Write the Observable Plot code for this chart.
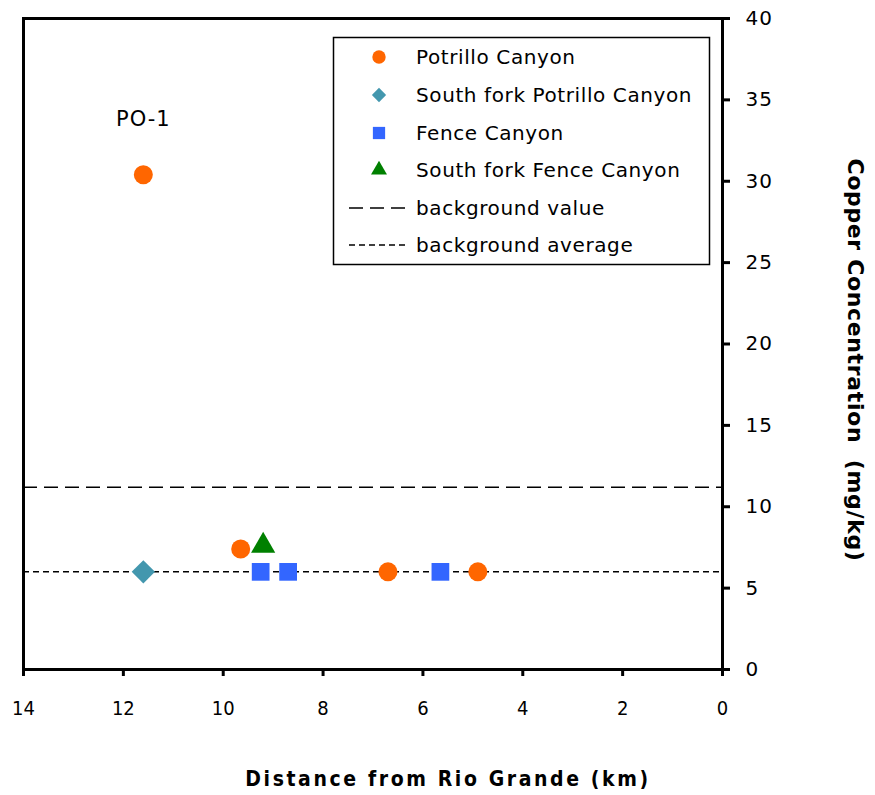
<!DOCTYPE html>
<html>
<head>
<meta charset="utf-8">
<script src="https://cdn.jsdelivr.net/npm/d3@7"></script>
<script src="https://cdn.jsdelivr.net/npm/@observablehq/plot@0.6"></script>
<style>
  html, body { margin: 0; padding: 0; background: #fff; }
  #wrap { position: relative; width: 875px; height: 795px; }
  #legend { position: absolute; left: 0; top: 0; pointer-events: none; }
  .ytick text { letter-spacing: 1px; }
  .po text { letter-spacing: 1px; }
  .xtitle text { letter-spacing: 2.6px; }
  .ytitle text { letter-spacing: 0.65px; }
</style>
</head>
<body>
<div id="wrap"></div>
<script>
// ---- data ----
const seriesNames = ["Potrillo Canyon", "South fork Potrillo Canyon", "Fence Canyon", "South fork Fence Canyon"];
const seriesColors = ["#FF6600", "#4397AE", "#3366FF", "#008000"];
const seriesSymbols = ["circle", "diamond2", "square", "triangle"];

const potrilloX = [11.6, 9.65, 6.7, 4.9];
const potrilloY = [30.4, 7.4, 6.0, 6.0];
const sfPotrilloX = [11.6];
const sfPotrilloY = [6.0];
const fenceX = [9.25, 8.7, 5.65];
const fenceY = [6.0, 6.0, 6.0];
const sfFenceX = [9.2];
const sfFenceY = [7.6];

const backgroundValue = 11.2;
const backgroundAverage = 6.0;

const xTicks = [14, 12, 10, 8, 6, 4, 2, 0];
const yTicks = [0, 5, 10, 15, 20, 25, 30, 35, 40];

const labels = [{x: 11.6, y: 30.4, text: "PO-1"}];
const xTitle = "Distance from Rio Grande (km)";
const yTitle = "Copper Concentration  (mg/kg)";
const lineLegend = ["background value", "background average"];

// ---- build table ----
const seriesX = [potrilloX, sfPotrilloX, fenceX, sfFenceX];
const seriesY = [potrilloY, sfPotrilloY, fenceY, sfFenceY];
const points = [];
seriesNames.forEach((name, i) => {
  seriesX[i].forEach((x, j) => points.push({series: name, x, y: seriesY[i][j]}));
});

const font = "DejaVu Sans, Verdana, sans-serif";
const narrow = "DejaVu Sans Condensed, Liberation Sans Narrow, sans-serif";
const markerR = [9.5, 10.5, 10, 9];

const chart = Plot.plot({
  width: 875,
  height: 795,
  marginLeft: 23,
  marginRight: 153,
  marginTop: 18,
  marginBottom: 126,
  style: {fontFamily: font, fontSize: "18px", color: "#000", background: "#fff"},
  x: {domain: [14, 0], label: null},
  y: {domain: [0, 40], label: null},
  symbol: {domain: seriesNames, range: seriesSymbols},
  color: {domain: seriesNames, range: seriesColors},
  marks: [
    Plot.ruleY([backgroundValue], {stroke: "#000", strokeWidth: 1.5, strokeDasharray: "14,7"}),
    Plot.ruleY([backgroundAverage], {stroke: "#000", strokeWidth: 1.5, strokeDasharray: "6,4"}),
    Plot.frame({stroke: "#000", strokeWidth: 3}),
    Plot.axisX({ticks: xTicks, tickSize: 7, tickPadding: 24, strokeWidth: 3, fontFamily: narrow, fontSize: 20, label: null}),
    Plot.axisY({anchor: "right", ticks: yTicks, tickSize: 7, tickPadding: 16, strokeWidth: 3, fontSize: 20, label: null, className: "ytick"}),
    ...seriesNames.map((name, i) =>
      Plot.dot(points, {filter: d => d.series === name, x: "x", y: "y", symbol: "series", fill: "series", r: markerR[i], stroke: "none"})
    ),
    Plot.text(labels, {x: "x", y: "y", text: "text", dy: -55, fontSize: 21, fill: "#000", className: "po"}),
    Plot.text([xTitle], {frameAnchor: "bottom", lineAnchor: "middle", dx: 75, dy: 110, fontFamily: narrow, fontWeight: "bold", fontSize: 21, fill: "#000", className: "xtitle"}),
    Plot.text([yTitle], {frameAnchor: "right", textAnchor: "middle", lineAnchor: "middle", dx: 133, dy: 16, rotate: 90, fontWeight: "bold", fontSize: 22, fill: "#000", className: "ytitle"})
  ]
});
document.getElementById("wrap").appendChild(chart);

// ---- legend (overlay) ----
const lg = d3.select("#wrap").append("svg")
  .attr("id", "legend").attr("width", 875).attr("height", 795);
const bx = 333, by = 37, bw = 376, bh = 227;
lg.append("rect").attr("x", bx + 0.5).attr("y", by + 0.5).attr("width", bw).attr("height", bh)
  .attr("fill", "#fff").attr("stroke", "#000").attr("stroke-width", 1.5);
const rowY = [57, 95, 133, 170, 208, 245];
const symMap = {circle: d3.symbolCircle, diamond2: d3.symbolDiamond2, square: d3.symbolSquare, triangle: d3.symbolTriangle};
const legendSize = [140, 130, 150, 110];
seriesNames.forEach((name, i) => {
  lg.append("path")
    .attr("d", d3.symbol(symMap[seriesSymbols[i]], legendSize[i])())
    .attr("transform", `translate(379,${rowY[i]})`)
    .attr("fill", seriesColors[i]);
  lg.append("text").attr("x", 416).attr("y", rowY[i]).attr("dy", "0.35em")
    .attr("font-family", font).attr("font-size", 20).attr("letter-spacing", 0.6).text(name);
});
const dashes = ["14,7", "6,4"];
lineLegend.forEach((name, k) => {
  const yy = rowY[4 + k];
  lg.append("line").attr("x1", 349).attr("x2", 405).attr("y1", yy).attr("y2", yy)
    .attr("stroke", "#000").attr("stroke-width", 1.5).attr("stroke-dasharray", dashes[k]);
  lg.append("text").attr("x", 416).attr("y", yy).attr("dy", "0.35em")
    .attr("font-family", font).attr("font-size", 20).attr("letter-spacing", 0.6).text(name);
});
</script>
</body>
</html>
